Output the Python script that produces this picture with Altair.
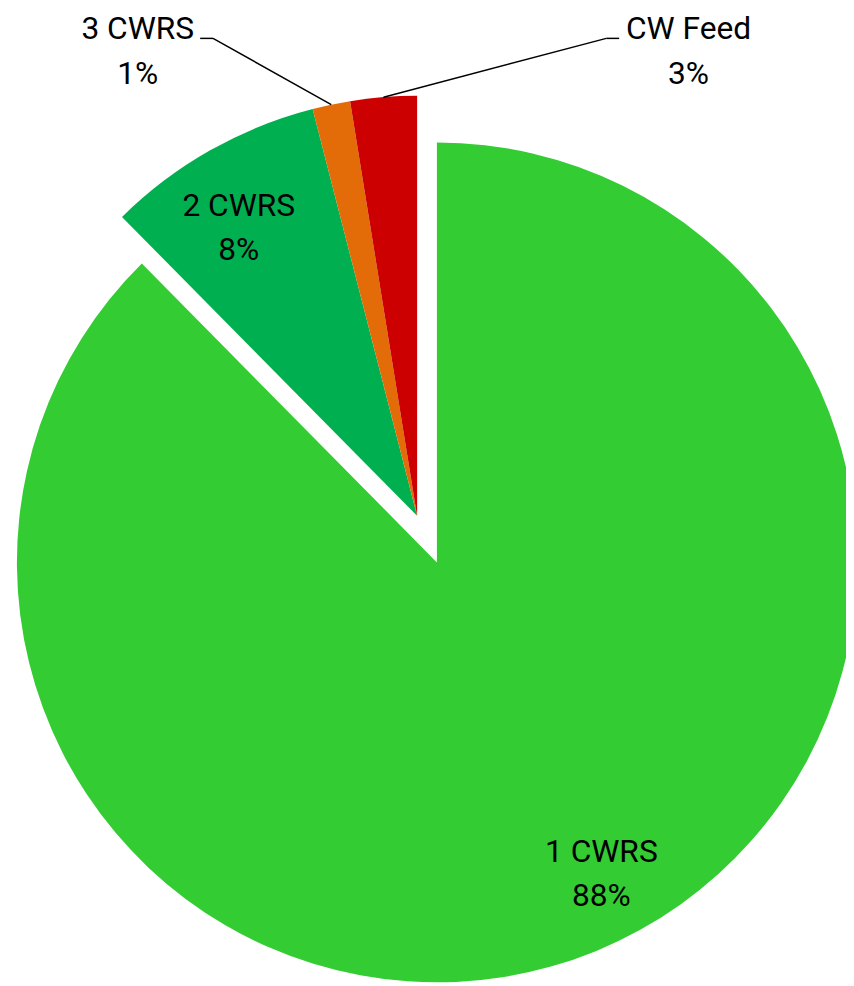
import math
import altair as alt
import pandas as pd

# ---- data ----
categories = ["1 CWRS", "2 CWRS", "3 CWRS", "CW Feed"]
shares = [87.6, 8.4, 1.45, 2.55]
colors = ["#33CC33", "#00B050", "#E36C09", "#CC0000"]

df = pd.DataFrame({"grade": categories, "share": shares,
                   "order": list(range(len(categories)))})

# ---- layout ----
R = 424
MAIN_C = (433, 555)   # exploded 1 CWRS slice centre
REST_C = (413, 508)   # centre of the other slices
FONT = "Roboto"
FS = 32
LH = 45
label_pos = {
    "1 CWRS": (599, 857),
    "2 CWRS": (233, 205),
    "3 CWRS": (131, 27),
    "CW Feed": (687, 27),
}
leaders = {  # elbow point, text end point
    "3 CWRS": ((207, 26), (194, 26)),
    "CW Feed": ((604, 26), (617, 26)),
}

theta_scale = alt.Scale(domain=[0, 100], range=[0, 2 * math.pi])
color = alt.Color("grade:N", scale=alt.Scale(domain=categories, range=colors), legend=None)

base = alt.Chart(df).transform_window(
    end="sum(share)", sort=[alt.SortField("order")], frame=[None, 0]
).transform_calculate(
    start="datum.end - datum.share",
    mid="datum.end - datum.share / 2",
    label="datum.grade + '\\n' + round(datum.share) + '%'",
)


def arcs(expr, c):
    return base.transform_filter(expr).mark_arc(radius=R).encode(
        x=alt.value(c[0]), y=alt.value(c[1]),
        theta=alt.Theta("start:Q", scale=theta_scale, stack=None),
        theta2="end:Q",
        color=color,
    )


layers = [
    arcs("datum.grade == '1 CWRS'", MAIN_C),
    arcs("datum.grade != '1 CWRS'", REST_C),
]

for g, (lx, ly) in label_pos.items():
    layers.append(
        base.transform_filter(f"datum.grade == '{g}'").mark_text(
            align="center", baseline="alphabetic", lineBreak="\n", lineHeight=LH,
            font=FONT, fontSize=FS, color="black",
        ).encode(x=alt.value(lx), y=alt.value(ly), text="label:N")
    )

for g, ((ex, ey), (tx, ty)) in leaders.items():
    layers.append(
        base.transform_filter(f"datum.grade == '{g}'").transform_calculate(
            px=f"{REST_C[0]} + {R} * sin(2 * PI * datum.mid / 100)",
            py=f"{REST_C[1]} - {R} * cos(2 * PI * datum.mid / 100)",
        ).mark_rule(color="black", strokeWidth=1.5).encode(
            x=alt.X("px:Q", scale=None, axis=None),
            y=alt.Y("py:Q", scale=None, axis=None),
            x2=alt.value(ex), y2=alt.value(ey),
        )
    )
    layers.append(
        base.transform_filter(f"datum.grade == '{g}'").mark_rule(
            color="black", strokeWidth=1.5
        ).encode(x=alt.value(ex), y=alt.value(ey), x2=alt.value(tx), y2=alt.value(ty))
    )

chart = alt.layer(*layers).properties(
    width=846, height=978, padding=0, autosize="none"
).configure_view(stroke=None)

chart.save("out.html", embed_options={"renderer": "svg", "actions": False})
